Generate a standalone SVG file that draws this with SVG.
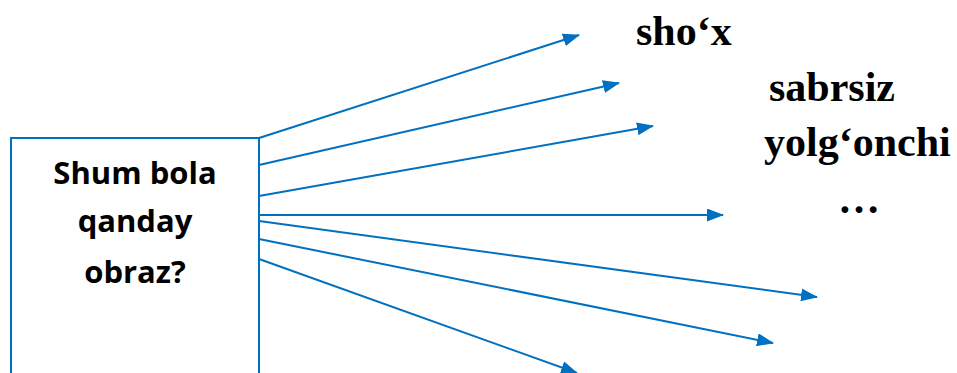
<svg xmlns="http://www.w3.org/2000/svg" width="957" height="373" viewBox="0 0 957 373">
<style>
.box{fill:#fff;stroke:#0070C0;stroke-width:2}
.c{stroke:#0070C0;stroke-width:2;fill:none;marker-end:url(#ah)}
.q{font-family:"Open Sans","Liberation Sans",sans-serif;font-weight:bold;font-size:31px;fill:#000;text-anchor:middle}
.a{font-family:"Liberation Serif","Times New Roman",serif;font-weight:bold;font-size:42px;fill:#000}
</style>
<defs>
<marker id="ah" markerWidth="17" markerHeight="13" refX="16" refY="6.5" orient="auto" markerUnits="userSpaceOnUse">
<path d="M0,0 L17,6.5 L0,13 Z" fill="#0070C0"/>
</marker>
</defs>
<rect width="957" height="373" fill="#fff"/>
<g id="box">
<path class="box" d="M11,380 V138 H259 V380"/>
<text class="q" x="135" y="184">Shum bola</text>
<text class="q" x="135" y="232">qanday</text>
<text class="q" x="135" y="283">obraz?</text>
</g>
<g id="connectors">
<line class="c" x1="259" y1="138" x2="579" y2="35"/>
<line class="c" x1="259" y1="165" x2="619" y2="83"/>
<line class="c" x1="259" y1="196" x2="653" y2="126"/>
<line class="c" x1="259" y1="215" x2="723" y2="215"/>
<line class="c" x1="259" y1="221" x2="817" y2="297"/>
<line class="c" x1="259" y1="239" x2="773" y2="343"/>
<line class="c" x1="259" y1="259" x2="577" y2="373"/>
</g>
<g id="answers">
<text class="a" x="636" y="45">sho‘x</text>
<text class="a" x="769" y="101">sabrsiz</text>
<text class="a" x="764" y="156">yolg‘onchi</text>
<text class="a" x="838" y="213">…</text>
</g>
</svg>
